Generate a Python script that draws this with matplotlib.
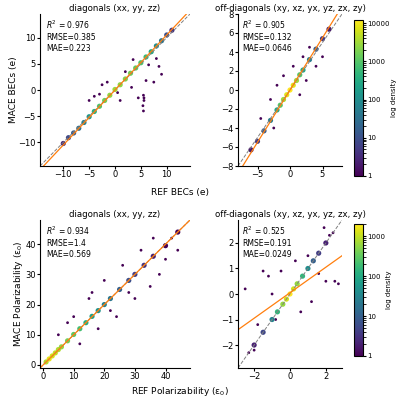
import numpy as np
import matplotlib.pyplot as plt
from matplotlib.colors import LogNorm

# --- panel data (band points with density, plus outliers) ---
# top-left: BEC diagonals
bec_d_band_x = [-10, -9, -8, -7, -6, -5, -4, -3, -2, -1, 0, 1, 2, 3, 4, 5, 6, 7, 8, 9, 10, 11]
bec_d_band_y = [-10.2, -9.1, -8.2, -7.3, -6.2, -5.1, -4.1, -3.1, -2.0, -1.0, 0.1, 1.0, 2.1, 3.2, 4.2, 5.2, 6.3, 7.3, 8.4, 9.4, 10.5, 11.4]
bec_d_band_c = [3, 8, 15, 30, 60, 150, 400, 900, 1500, 2500, 3000, 2500, 2000, 1500, 1200, 900, 600, 300, 100, 40, 10, 4]
bec_d_out_x = [5.5, 5.6, 5.4, 5.5, 5.6, 8.5, 9.0, 7.5, 6.0, 3.2, -1.5, 1.0, -3.0, -5.0, -2.5, 4.5, 2.0, 8.0, 6.5, 0.5, -4.0, 3.5]
bec_d_out_y = [-1.0, -2.0, -3.0, -4.0, -1.5, 4.5, 3.0, 1.5, 1.8, 0.5, 1.5, -2.0, -0.8, -2.0, 1.0, -1.5, 3.5, 6.0, 4.8, -0.5, -1.2, 5.8]

# top-right: BEC off-diagonals
bec_o_band_x = [-6, -5, -4, -3, -2, -1.5, -1, -0.5, 0, 0.5, 1, 1.5, 2, 3, 4, 5, 6]
bec_o_band_y = [-6.3, -5.4, -4.3, -3.2, -2.1, -1.6, -1.0, -0.5, 0.0, 0.5, 1.0, 1.6, 2.1, 3.2, 4.3, 5.4, 6.4]
bec_o_band_c = [2, 5, 15, 50, 300, 1000, 3000, 8000, 12000, 8000, 3000, 1000, 300, 50, 15, 5, 2]
bec_o_out_x = [-3.0, -2.0, 2.5, 3.0, 1.5, -1.0, 4.0, -4.5, 0.5, 2.0, -2.5, 5.0]
bec_o_out_y = [-1.0, 0.5, 1.0, 4.5, -0.5, 1.5, 2.5, -3.0, 2.5, 3.5, -4.0, 3.5]

# bottom-left: polarizability diagonals
pol_d_band_x = [1, 2, 3, 4, 5, 6, 8, 10, 12, 14, 16, 18, 20, 22, 25, 28, 30, 33, 36, 40, 44]
pol_d_band_y = [1.0, 2.0, 3.0, 4.0, 5.1, 6.0, 8.0, 10.1, 12.0, 14.0, 16.1, 18.0, 20.0, 22.0, 25.0, 28.0, 30.0, 33.0, 36.0, 39.5, 44.0]
pol_d_band_c = [800, 1500, 1200, 1000, 800, 600, 400, 300, 200, 120, 80, 50, 30, 20, 10, 6, 4, 3, 2, 1, 1]
pol_d_out_x = [5, 8, 12, 15, 18, 20, 24, 26, 30, 32, 35, 38, 40, 42, 22, 28, 10, 16, 36, 44]
pol_d_out_y = [10, 14, 7, 22, 12, 28, 16, 33, 22, 38, 26, 30, 35, 42, 18, 24, 16, 24, 42, 38]

# bottom-right: polarizability off-diagonals
pol_o_band_x = [-2.0, -1.5, -1.0, -0.7, -0.4, -0.2, 0.0, 0.2, 0.4, 0.7, 1.0, 1.3, 1.6, 2.0]
pol_o_band_y = [-2.0, -1.5, -1.0, -0.7, -0.4, -0.2, 0.0, 0.2, 0.4, 0.7, 1.0, 1.3, 1.6, 2.0]
pol_o_band_c = [2, 5, 30, 150, 600, 1200, 2000, 1200, 600, 150, 40, 10, 4, 2]
pol_o_out_x = [-2.5, -2.3, -1.8, -1.5, -1.2, -0.8, 2.7, 2.4, 2.0, 1.6, 1.2, -0.5, 0.6, 1.0, 2.2, -2.0, -1.0, 0.3, 1.9, 2.5]
pol_o_out_y = [0.2, -2.3, -1.2, 0.9, 0.7, -1.0, 0.4, 2.4, 0.5, 0.8, -0.3, 0.9, -0.7, 1.5, 2.3, -2.2, 0.0, 1.3, 2.6, 0.5]

titles = ["diagonals (xx, yy, zz)", "off-diagonals (xy, xz, yx, yz, zx, zy)",
          "diagonals (xx, yy, zz)", "off-diagonals (xy, xz, yx, yz, zx, zy)"]
stats = [(0.976, "0.385", "0.223"), (0.905, "0.132", "0.0646"),
         (0.934, "1.4", "0.569"), (0.525, "0.191", "0.0249")]
fits = [(1.05, 0.0), (1.1, 0.0), (1.0, 0.0), (0.5, 0.05)]
limits = [(-14.5, 14.5), (-8, 8), (-1, 48), (-2.9, 2.9)]
vmax = [12000, 12000, 2000, 2000]

panels = [(bec_d_band_x, bec_d_band_y, bec_d_band_c, bec_d_out_x, bec_d_out_y),
          (bec_o_band_x, bec_o_band_y, bec_o_band_c, bec_o_out_x, bec_o_out_y),
          (pol_d_band_x, pol_d_band_y, pol_d_band_c, pol_d_out_x, pol_d_out_y),
          (pol_o_band_x, pol_o_band_y, pol_o_band_c, pol_o_out_x, pol_o_out_y)]

fig = plt.figure(figsize=(4, 4), dpi=100)
rects = [[0.1, 0.585, 0.375, 0.38], [0.595, 0.585, 0.26, 0.38],
         [0.1, 0.08, 0.375, 0.37], [0.595, 0.08, 0.26, 0.37]]
cb_rects = [None, [0.885, 0.56, 0.022, 0.39], None, [0.885, 0.11, 0.022, 0.33]]
cb_ticks = [1, 10, 100, 1000, 10000]

for i, (bx, by, bc, ox, oy) in enumerate(panels):
    ax = fig.add_axes(rects[i])
    norm = LogNorm(1, vmax[i])
    ax.scatter(ox, oy, c=[1] * len(ox), cmap="viridis", norm=norm, s=4, lw=0)
    sc = ax.scatter(bx, by, c=bc, cmap="viridis", norm=norm, s=14, lw=0)
    lo, hi = limits[i]
    ax.plot([lo, hi], [lo, hi], "--", color="gray", lw=0.7)
    m, b = fits[i]
    ax.plot([lo, hi], [m * lo + b, m * hi + b], color="#ff7f0e", lw=0.9)
    ax.set_xlim(lo, hi)
    ax.set_ylim(lo, hi)
    ax.set_title(titles[i], fontsize=6.2, pad=2)
    ax.tick_params(labelsize=6, length=2, pad=1)
    ax.text(0.04, 0.97, "$R^2$ = %s\nRMSE=%s\nMAE=%s" % stats[i], transform=ax.transAxes,
            fontsize=5.5, va="top", linespacing=1.3)
    for s in ("top", "right"):
        ax.spines[s].set_visible(False)
    if cb_rects[i]:
        cax = fig.add_axes(cb_rects[i])
        cb = fig.colorbar(sc, cax=cax)
        ticks = [t for t in cb_ticks if t <= vmax[i]]
        cb.set_ticks(ticks)
        cb.set_ticklabels([str(t) for t in ticks])
        cb.ax.tick_params(labelsize=5, length=2, pad=1)
        cb.set_label("log density", fontsize=5, labelpad=1)
    if i == 0:
        ax.set_ylabel("MACE BECs (e)", fontsize=6.5, labelpad=0)
    if i == 2:
        ax.set_ylabel("MACE Polarizability (ε$_0$)", fontsize=6.5, labelpad=0)

fig.text(0.45, 0.52, "REF BECs (e)", fontsize=6.5, ha="center", va="center")
fig.text(0.45, 0.022, "REF Polarizability (ε$_0$)", fontsize=6.5, ha="center", va="center")
fig.savefig("out.png", dpi=100)
